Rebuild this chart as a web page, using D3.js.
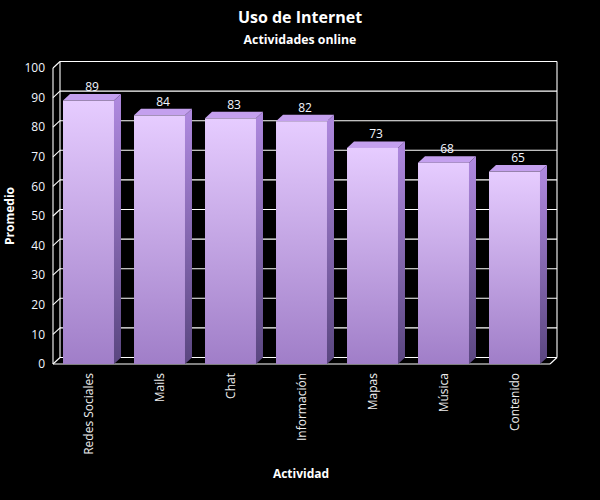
<!DOCTYPE html>
<html>
<head>
<meta charset="utf-8">
<script src="https://cdn.jsdelivr.net/npm/d3@7"></script>
<style>
html,body{margin:0;padding:0;background:#000;}
svg{display:block;}
text{font-family:"Open Sans",sans-serif;}
</style>
</head>
<body>
<script>
const categories = ["Redes Sociales","Mails","Chat","Información","Mapas","Música","Contenido"];
const values = [89,84,83,82,73,68,65];
const yTicks = [0,10,20,30,40,50,60,70,80,90,100];
const title = "Uso de Internet";
const subtitle = "Actividades online";
const xTitle = "Actividad";
const yTitle = "Promedio";

(function () {
const W = 600, H = 500;
const svg = d3.select("body").append("svg").attr("width", W).attr("height", H);
svg.append("rect").attr("width", W).attr("height", H).attr("fill", "#000");

const pLeft = 53, pRight = 550, pTop = 68, pBottom = 364;
const dx = 7, dy = 6.5;

const x = d3.scaleBand().domain(categories).range([pLeft, pRight]).paddingInner(0.282).paddingOuter(0.141);
const y = d3.scaleLinear().domain([0, 100]).range([pBottom, pTop]);

const defs = svg.append("defs");
const gFront = defs.append("linearGradient").attr("id", "gFront").attr("x1", 0).attr("y1", 0).attr("x2", 0).attr("y2", 1);
gFront.append("stop").attr("offset", "0%").attr("stop-color", "#e6ccff");
gFront.append("stop").attr("offset", "100%").attr("stop-color", "#a07ec8");
const gSide = defs.append("linearGradient").attr("id", "gSide").attr("x1", 0).attr("y1", 0).attr("x2", 0).attr("y2", 1);
gSide.append("stop").attr("offset", "0%").attr("stop-color", "#b08ae0");
gSide.append("stop").attr("offset", "100%").attr("stop-color", "#5a4680");

// Grid on back wall and left wall
const grid = svg.append("g").attr("stroke", "#fff").attr("stroke-width", 1.1).attr("fill", "none");
yTicks.forEach(t => {
  const yf = y(t);
  grid.append("line").attr("x1", pLeft + dx).attr("x2", pRight + dx).attr("y1", yf - dy).attr("y2", yf - dy);
  grid.append("line").attr("x1", pLeft).attr("x2", pLeft + dx).attr("y1", yf).attr("y2", yf - dy);
});
grid.append("line").attr("x1", pLeft + dx).attr("x2", pLeft + dx).attr("y1", y(100) - dy).attr("y2", y(0) - dy);
grid.append("line").attr("x1", pRight + dx).attr("x2", pRight + dx).attr("y1", y(100) - dy).attr("y2", y(0) - dy);
grid.append("line").attr("x1", pLeft).attr("x2", pLeft).attr("y1", y(100)).attr("y2", y(0));
grid.append("line").attr("x1", pLeft).attr("x2", pRight).attr("y1", y(0)).attr("y2", y(0));
grid.append("line").attr("x1", pRight).attr("x2", pRight + dx).attr("y1", y(0)).attr("y2", y(0) - dy);

// Bars
const bw = x.bandwidth();
const bars = svg.append("g").selectAll("g").data(categories).join("g");
bars.append("path")
  .attr("fill", "url(#gSide)")
  .attr("d", (d, i) => {
    const x1 = x(d) + bw, yt = y(values[i]), yb = y(0);
    return `M${x1},${yt}L${x1 + dx},${yt - dy}L${x1 + dx},${yb - dy}L${x1},${yb}Z`;
  });
bars.append("path")
  .attr("fill", "#c4a0ee")
  .attr("d", (d, i) => {
    const x0 = x(d), yt = y(values[i]);
    return `M${x0},${yt}L${x0 + dx},${yt - dy}L${x0 + bw + dx},${yt - dy}L${x0 + bw},${yt}Z`;
  });
bars.append("rect")
  .attr("fill", "url(#gFront)")
  .attr("x", d => x(d))
  .attr("width", bw)
  .attr("y", (d, i) => y(values[i]))
  .attr("height", (d, i) => y(0) - y(values[i]));

// Value labels
bars.append("text")
  .attr("x", d => x(d) + bw / 2 + dx / 2)
  .attr("y", (d, i) => y(values[i]) - dy - 3)
  .attr("text-anchor", "middle")
  .attr("fill", "#f2f6ff")
  .attr("font-size", 12)
  .text((d, i) => values[i]);

// Y tick labels
svg.append("g").selectAll("text").data(yTicks).join("text")
  .attr("x", 45).attr("y", d => y(d)).attr("dy", "0.35em")
  .attr("text-anchor", "end").attr("fill", "#f2f6ff").attr("font-size", 12)
  .text(d => d);

// X category labels
svg.append("g").selectAll("text").data(categories).join("text")
  .attr("transform", d => `translate(${x(d) + bw / 2},${pBottom + 9}) rotate(-90)`)
  .attr("text-anchor", "end").attr("dy", "0.35em")
  .attr("fill", "#eeeeee").attr("font-size", 12)
  .text(d => d);

// Titles
svg.append("text").attr("x", 300).attr("y", 23).attr("text-anchor", "middle")
  .attr("fill", "#fff").attr("font-size", 16).attr("font-weight", "bold").text(title);
svg.append("text").attr("x", 300).attr("y", 44).attr("text-anchor", "middle")
  .attr("fill", "#fff").attr("font-size", 12.3).attr("font-weight", "bold").text(subtitle);
svg.append("text").attr("x", 301).attr("y", 478).attr("text-anchor", "middle")
  .attr("fill", "#fff").attr("font-size", 12).attr("font-weight", "bold").text(xTitle);
svg.append("text").attr("transform", `translate(14,${(pTop + pBottom) / 2}) rotate(-90)`).attr("text-anchor", "middle")
  .attr("fill", "#fff").attr("font-size", 12).attr("font-weight", "bold").text(yTitle);
})();
</script>
</body>
</html>
